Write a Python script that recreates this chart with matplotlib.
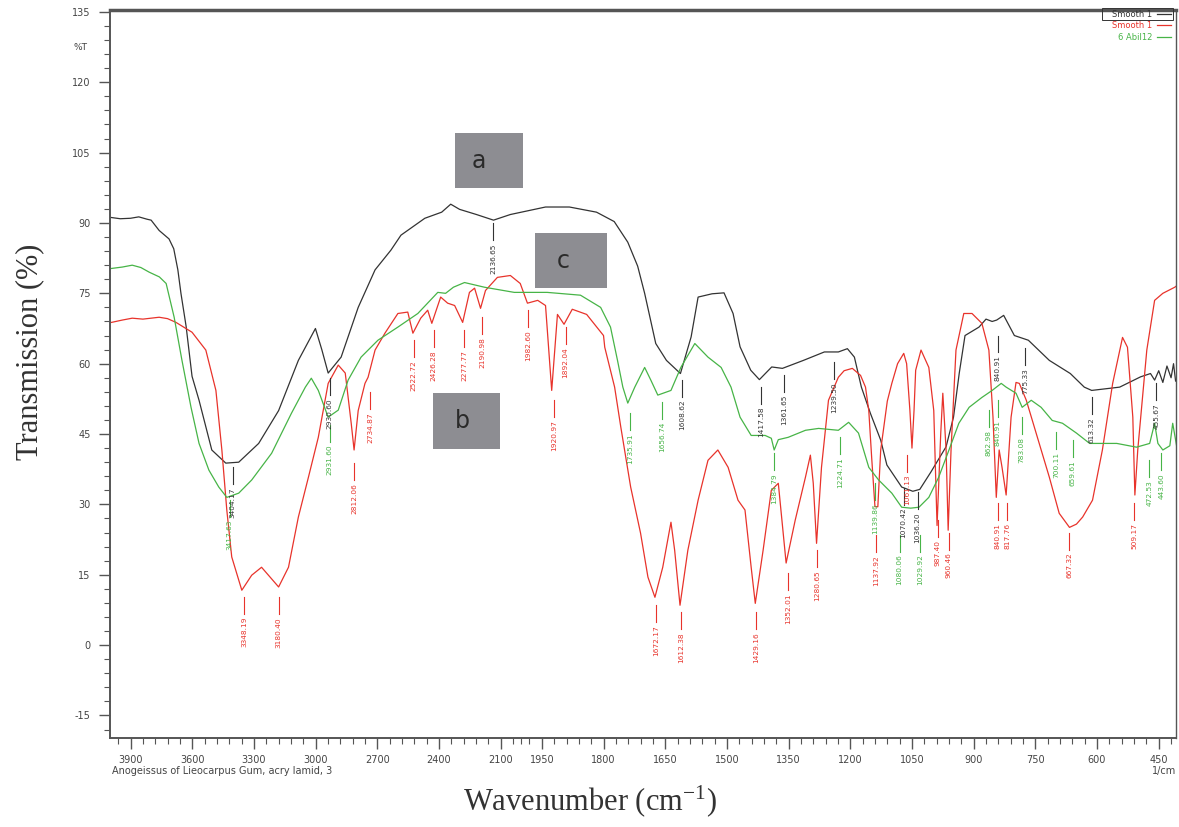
import numpy as np
import matplotlib
matplotlib.use("Agg")
import matplotlib.pyplot as plt
from matplotlib.patches import Rectangle

# ---- spectrum a (black) ----
wn_a = [4000, 3950, 3900, 3860, 3820, 3800, 3761, 3713, 3690, 3670, 3655, 3630,
        3601, 3567, 3505, 3437, 3374, 3277, 3180, 3084, 3001, 2970, 2939, 2876,
        2793, 2711, 2634, 2585, 2469, 2387, 2343, 2300, 2218, 2135, 2053, 1941,
        1883, 1817, 1774, 1741, 1717, 1700, 1673, 1647, 1613, 1587, 1570, 1536,
        1507, 1485, 1468, 1442, 1421, 1391, 1365, 1314, 1263, 1229, 1207, 1190,
        1173, 1151, 1126, 1111, 1075, 1048, 1031, 1004, 967, 949, 935, 921, 887,
        870, 855, 844, 827, 801, 767, 716, 665, 631, 613, 545, 494, 470, 460,
        450, 440, 430, 420, 414, 409]
t_a = [91.2, 90.9, 91.0, 91.3, 90.8, 90.6, 88.4, 86.6, 84.5, 80.0, 75.0, 68.0,
       57.3, 52.2, 41.6, 38.8, 39.0, 43.0, 50.0, 60.7, 67.5, 63.0, 58.0, 61.4,
       72.0, 80.0, 84.2, 87.4, 91.0, 92.3, 94.0, 92.9, 91.8, 90.6, 91.8, 93.4,
       93.4, 92.3, 90.3, 85.9, 80.8, 75.0, 64.3, 60.7, 57.9, 65.7, 74.2, 74.9,
       75.1, 70.7, 63.6, 58.6, 56.6, 59.3, 59.0, 60.7, 62.5, 62.5, 63.2, 61.4,
       55.0, 49.4, 43.7, 38.4, 33.7, 32.8, 33.2, 36.9, 42.3, 48.6, 58.0, 66.0,
       67.8, 69.5, 69.0, 69.3, 70.3, 66.0, 65.0, 60.7, 57.9, 55.0, 54.3, 55.0,
       57.2, 57.9, 56.5, 58.5, 56.0, 59.5, 57.0, 60.0, 56.3]

# ---- spectrum b (red) ----
wn_b = [3993, 3940, 3892, 3840, 3761, 3720, 3679, 3601, 3534, 3485, 3456, 3432,
        3408, 3359, 3311, 3263, 3180, 3132, 3084, 3035, 2987, 2939, 2890, 2856,
        2827, 2813, 2793, 2760, 2745, 2711, 2663, 2600, 2552, 2527, 2489, 2455,
        2435, 2392, 2358, 2324, 2285, 2252, 2227, 2198, 2174, 2116, 2053, 2005,
        1985, 1960, 1941, 1926, 1912, 1896, 1876, 1841, 1800, 1797, 1773, 1758,
        1734, 1710, 1692, 1675, 1656, 1636, 1627, 1614, 1595, 1570, 1546, 1522,
        1497, 1473, 1456, 1441, 1431, 1412, 1392, 1375, 1356, 1334, 1309, 1297,
        1290, 1282, 1270, 1253, 1229, 1215, 1195, 1175, 1163, 1155, 1148, 1140,
        1133, 1126, 1110, 1099, 1085, 1070, 1063, 1055, 1050, 1045, 1041, 1028,
        1009, 997, 989, 980, 975, 967, 962, 955, 943, 924, 904, 880, 863, 853,
        845, 838, 831, 821, 809, 797, 789, 772, 748, 716, 692, 667, 650, 635,
        611, 587, 562, 538, 526, 513, 508, 501, 479, 460, 440, 411, 408]
t_b = [68.8, 69.3, 69.7, 69.5, 69.9, 69.6, 68.8, 66.7, 62.9, 54.3, 41.6, 28.8,
       18.8, 11.7, 14.9, 16.6, 12.4, 16.6, 27.3, 35.8, 44.3, 55.8, 59.7, 58.0,
       47.3, 41.6, 50.0, 55.8, 57.1, 62.9, 66.5, 70.7, 71.0, 66.5, 69.7, 71.4,
       68.6, 74.2, 72.9, 72.4, 68.8, 75.2, 76.1, 71.8, 75.6, 78.4, 78.8, 77.1,
       72.9, 73.5, 72.4, 54.3, 70.5, 68.4, 71.6, 70.5, 66.0, 63.5, 55.0, 46.5,
       33.7, 23.9, 14.5, 10.2, 16.6, 26.2, 20.2, 8.5, 20.2, 30.9, 39.4, 41.6,
       37.9, 30.9, 28.8, 16.6, 8.9, 20.2, 33.0, 34.5, 17.5, 26.6, 35.8, 40.5,
       34.5, 21.7, 37.9, 52.2, 57.1, 58.5, 59.0, 57.5, 55.0, 50.0, 40.0, 29.5,
       29.5, 41.6, 52.0, 55.8, 60.0, 62.2, 60.0, 50.0, 42.0, 50.0, 58.6, 62.9,
       59.2, 50.0, 25.5, 45.2, 53.7, 41.6, 24.5, 41.6, 62.9, 70.7, 70.7, 68.6,
       62.9, 48.6, 31.5, 41.6, 37.9, 32.0, 48.6, 56.0, 55.8, 52.2, 45.2, 35.8,
       28.1, 25.1, 25.8, 27.3, 30.9, 41.6, 55.8, 65.6, 63.5, 48.6, 32.0, 41.6,
       62.9, 73.5, 75.0, 76.3, 76.5]

# ---- spectrum c (green) ----
wn_c = [3993, 3940, 3892, 3850, 3809, 3760, 3727, 3688, 3650, 3606, 3567, 3519,
        3471, 3432, 3374, 3311, 3214, 3118, 3050, 3021, 2987, 2939, 2890, 2842,
        2779, 2697, 2600, 2503, 2406, 2368, 2330, 2276, 2179, 2034, 1937, 1856,
        1807, 1783, 1766, 1753, 1741, 1724, 1700, 1685, 1668, 1636, 1612, 1578,
        1546, 1514, 1490, 1468, 1441, 1407, 1392, 1385, 1375, 1351, 1309, 1277,
        1229, 1204, 1180, 1155, 1131, 1099, 1075, 1053, 1033, 1009, 985, 960,
        936, 911, 880, 855, 833, 821, 797, 782, 760, 736, 709, 684, 650, 618,
        552, 504, 472, 460, 452, 440, 423, 416, 406]
t_c = [80.3, 80.6, 81.0, 80.5, 79.5, 78.5, 77.1, 69.9, 60.7, 50.7, 43.0, 37.3,
       33.7, 31.5, 32.4, 35.2, 40.9, 49.4, 55.0, 56.9, 54.3, 48.6, 50.1, 56.5,
       61.4, 65.0, 67.8, 70.7, 75.2, 75.0, 76.3, 77.3, 76.3, 75.2, 75.2, 74.6,
       72.0, 67.8, 60.7, 55.0, 51.6, 55.0, 59.2, 56.5, 53.3, 54.3, 59.2, 64.3,
       61.4, 59.2, 55.0, 48.6, 44.7, 44.7, 44.1, 41.6, 43.8, 44.3, 45.8, 46.2,
       45.8, 47.5, 45.2, 37.9, 35.2, 32.4, 29.4, 29.2, 29.4, 31.5, 35.8, 41.6,
       47.3, 50.7, 52.8, 54.3, 55.8, 55.0, 53.7, 50.7, 52.2, 50.7, 47.9, 47.3,
       45.2, 43.0, 43.0, 42.2, 43.0, 47.3, 43.0, 41.6, 42.5, 47.3, 42.2]

# ---- peak labels: text, top of tick line (%T) ----
peaks_a = ["3404.17", "2930.60", "2136.65", "1608.62", "1417.58", "1361.65",
           "1239.50", "1070.42", "1036.20", "840.91", "775.33", "613.32", "455.67"]
top_a = [37.9, 56.9, 89.9, 56.5, 55.0, 57.5, 60.3, 33.5, 32.6, 66.0, 63.3, 52.8, 55.8]

peaks_b = ["3348.19", "3180.40", "2812.06", "2734.87", "2522.72", "2426.28",
           "2277.77", "2190.98", "1982.60", "1920.97", "1892.04", "1672.17",
           "1612.38", "1429.16", "1352.01", "1280.65", "1137.92", "1061.13",
           "987.40", "960.46", "840.91", "817.76", "667.32", "509.17"]
top_b = [10.2, 10.2, 38.8, 53.9, 65.0, 67.1, 67.1, 69.9, 71.4, 52.2, 67.8, 8.5,
         7.0, 7.0, 15.3, 20.2, 23.4, 40.5, 26.6, 23.9, 30.3, 30.3, 23.9, 30.3]

peaks_c = ["3417.63", "2931.60", "1735.91", "1656.74", "1384.79", "1224.71",
           "1139.86", "1080.06", "1029.92", "862.98", "840.91", "783.08",
           "700.11", "659.61", "472.53", "443.60"]
top_c = [30.9, 46.9, 49.4, 51.8, 40.9, 44.3, 34.5, 23.5, 23.5, 50.1, 52.2, 48.6,
         45.4, 43.7, 39.4, 40.9]

BLACK = "#333333"
RED = "#e8332b"
GREEN = "#47b447"


def fwd(x):
    x = np.asarray(x, dtype=float)
    return np.where(x > 2000, 2000 + (x - 2000) / 2.0, x)


def inv(u):
    u = np.asarray(u, dtype=float)
    return np.where(u > 2000, 2000 + (u - 2000) * 2.0, u)


def add_peaks(ax, labels, tops, color):
    for lab, top in zip(labels, tops):
        x = float(lab)
        ax.plot([x, x], [top, top - 3.6], color=color, lw=0.8)
        ax.text(x, top - 4.2, lab, rotation=90, ha="center", va="top",
                fontsize=5.3, color=color)


def main():
    fig = plt.figure(figsize=(11.79, 8.27), dpi=100)
    ax = fig.add_axes([110 / 1179, 1 - 738 / 827, 1066 / 1179, 728 / 827])
    ax.set_xscale("function", functions=(fwd, inv))

    ax.plot(wn_a, t_a, color=BLACK, lw=0.9, label="Smooth 1")
    ax.plot(wn_b, t_b, color=RED, lw=0.9, label="Smooth 1")
    ax.plot(wn_c, t_c, color=GREEN, lw=0.9, label="6 Abil12")

    add_peaks(ax, peaks_a, top_a, BLACK)
    add_peaks(ax, peaks_b, top_b, RED)
    add_peaks(ax, peaks_c, top_c, GREEN)

    ax.set_xlim(4000, 408)
    ax.set_ylim(-19.8, 135.4)

    major = [3900, 3600, 3300, 3000, 2700, 2400, 2100, 1950, 1800, 1650, 1500,
             1350, 1200, 1050, 900, 750, 600, 450]
    minor = list(range(3960, 2000, -60)) + [2000] + list(range(1980, 400, -30))
    minor = [m for m in minor if m not in major]
    ax.set_xticks(major)
    ax.set_xticklabels([str(m) for m in major])
    ax.set_xticks(minor, minor=True)

    yt = list(range(-15, 136, 15))
    ax.set_yticks(yt)
    ax.set_yticklabels([str(v) for v in yt])
    ax.set_yticks(np.arange(-18, 136, 3), minor=True)

    ax.tick_params(axis="both", which="major", direction="out", length=8,
                   width=1.0, color="#555555", labelsize=7, labelcolor="#444444")
    ax.tick_params(axis="both", which="minor", direction="out", length=4.5,
                   width=0.8, color="#555555")
    ax.tick_params(axis="y", pad=6)
    ax.tick_params(axis="x", pad=4)

    for side, lw in [("top", 2.5), ("left", 1.4), ("bottom", 1.4), ("right", 1.0)]:
        ax.spines[side].set_linewidth(lw)
        ax.spines[side].set_color("#555555")

    ax.text(-0.028, 127.5, "%T", transform=ax.get_yaxis_transform(),
            ha="center", va="center", fontsize=6.5, color="#444444")

    # sample labels a, b, c
    boxes = [(0.3236, 0.7555, 0.0638, 0.0755, "a", 0.346),
             (0.3987, 0.6180, 0.0675, 0.0755, "c", 0.4250),
             (0.3030, 0.3970, 0.0629, 0.0769, "b", 0.3310)]
    for x0, y0, w, h, s, tx in boxes:
        ax.add_patch(Rectangle((x0, y0), w, h, transform=ax.transAxes,
                               facecolor="#8d8d92", edgecolor="none", zorder=5))
        ax.text(tx, y0 + h / 2, s, transform=ax.transAxes, ha="center",
                va="center", fontsize=17, color="#2a2a2a", zorder=6)

    leg = ax.legend(loc="upper right", bbox_to_anchor=(0.998, 1.005), fontsize=6,
                    frameon=False, handlelength=1.6, markerfirst=False,
                    labelcolor="linecolor", borderaxespad=0.0, labelspacing=0.3,
                    handletextpad=0.6)
    leg.set_zorder(10)
    fig.add_artist(Rectangle((1102 / 1179, 1 - 20 / 827), 71 / 1179, 12 / 827,
                             transform=fig.transFigure, fill=False, lw=0.7,
                             edgecolor="#333333"))

    fig.text(112 / 1179, 1 - 771 / 827,
             "Anogeissus of Lieocarpus Gum, acry lamid, 3",
             fontsize=7, color="#444444", ha="left", va="center")
    fig.text(1176 / 1179, 1 - 771 / 827, "1/cm", fontsize=7,
             color="#444444", ha="right", va="center")

    plt.rcParams["mathtext.fontset"] = "stix"
    fig.text(30 / 1179, 1 - 352 / 827, "Transmission (%)", rotation=90,
             fontsize=22, family="Liberation Serif", color="#333333",
             ha="center", va="center")
    fig.text(590 / 1179, 1 - 802 / 827, r"Wavenumber (cm$^{\mathregular{-1}}$)",
             fontsize=22, family="Liberation Serif", color="#333333",
             ha="center", va="center")

    fig.savefig("out.png", dpi=100)


if __name__ == "__main__":
    main()
